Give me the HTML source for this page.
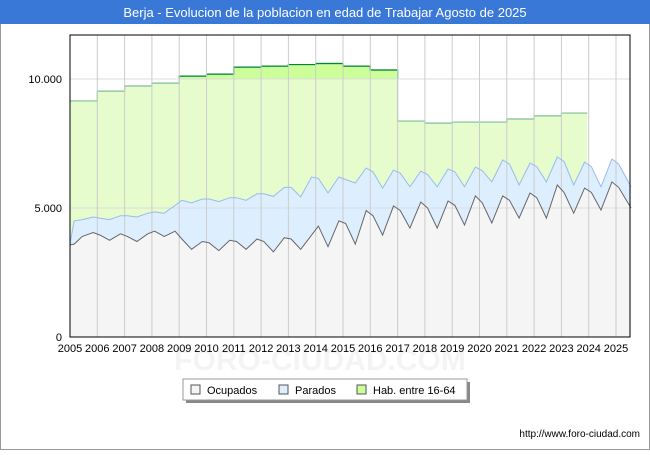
<!DOCTYPE html>
<html><head><meta charset="utf-8"><style>
body{margin:0;background:#fff;font-family:"Liberation Sans",sans-serif}
#wrap{position:relative;width:650px;height:450px}
</style></head><body>
<div id="wrap">
<svg id="svg" width="650" height="450" xmlns="http://www.w3.org/2000/svg">
<rect x="0.5" y="0.5" width="649" height="449" fill="#fff" stroke="#999"/>
<rect x="0" y="0" width="650" height="24" fill="#3a78d8"/>
<text x="325" y="17" text-anchor="middle" fill="#fff" font-size="13">Berja - Evolucion de la poblacion en edad de Trabajar Agosto de 2025</text>
<text x="320" y="370" text-anchor="middle" fill="#f4f4f4" font-size="30" font-weight="bold">FORO-CIUDAD.COM</text>
<g id="plot"></g>
<g>
<rect x="186" y="382" width="284" height="21" fill="#888"/>
<rect x="183" y="379" width="284" height="21" fill="#fff" stroke="#999"/>
<rect x="191" y="385" width="9" height="9" fill="#f5f5f5" stroke="#555"/>
<text x="207" y="394" font-size="11">Ocupados</text>
<rect x="279" y="385" width="9" height="9" fill="#ddeeff" stroke="#555"/>
<text x="295" y="394" font-size="11">Parados</text>
<rect x="357" y="385" width="9" height="9" fill="#ccff99" stroke="#555"/>
<text x="373" y="394" font-size="11">Hab. entre 16-64</text>
</g>
<text x="640" y="437" text-anchor="end" font-size="10">http://www.foro-ciudad.com</text>
</svg>
</div>
<script>
const habYears=[2005,2006,2007,2008,2009,2010,2011,2012,2013,2014,2015,2016,2017,2018,2019,2020,2021,2022,2023];
const habValues=[9150,9530,9730,9840,10110,10190,10460,10500,10560,10600,10500,10350,8370,8290,8330,8330,8450,8570,8680];
const fechas=[2005.0,2005.15,2005.45,2005.85,
2006.1,2006.45,2006.85,2007.1,2007.45,2007.85,2008.1,2008.45,2008.85,2009.1,2009.45,2009.85,
2010.1,2010.45,2010.85,2011.1,2011.45,2011.85,2012.1,2012.45,2012.85,2013.1,2013.45,2013.85,
2014.1,2014.45,2014.85,2015.1,2015.45,2015.85,2016.1,2016.45,2016.85,2017.1,2017.45,2017.85,
2018.1,2018.45,2018.85,2019.1,2019.45,2019.85,2020.1,2020.45,2020.85,2021.1,2021.45,2021.85,
2022.1,2022.45,2022.85,2023.1,2023.45,2023.85,2024.1,2024.45,2024.85,2025.1,2025.55];
const ocupados=[3570,3600,3900,4050,
3950,3750,4000,3900,3700,4000,4100,3900,4100,3800,3400,3700,
3650,3350,3750,3700,3400,3800,3700,3300,3850,3800,3400,3950,
4300,3500,4500,4400,3600,4900,4700,3950,5080,4900,4220,5230,
5000,4220,5270,5100,4340,5470,5200,4420,5470,5300,4610,5580,
5400,4610,5890,5600,4800,5770,5600,4920,6010,5800,5000];
const ocupadosMasParados=[3600,4500,4550,4650,
4600,4550,4700,4700,4650,4800,4850,4800,5100,5300,5200,5350,
5350,5250,5400,5400,5300,5550,5550,5450,5800,5800,5430,6200,
6150,5580,6200,6100,5970,6550,6400,5770,6470,6350,5820,6430,
6300,5820,6510,6400,5820,6590,6450,6010,6860,6700,5890,6740,
6600,6010,6980,6800,5890,6780,6600,5820,6900,6700,5820];
const yTicks=[0,5000,10000];
const yTickLabels=["0","5.000","10.000"];
const xYears=[2005,2006,2007,2008,2009,2010,2011,2012,2013,2014,2015,2016,2017,2018,2019,2020,2021,2022,2023,2024,2025];

const L=70,R=630,T=35,B=337;
const xs=v=>L+(v-2005)*27.3;
const ys=v=>B-v*0.0258;
const NS='http://www.w3.org/2000/svg';
const plot=document.getElementById('plot');
function mk(tag,attrs,parent){const e=document.createElementNS(NS,tag);for(const k in attrs)e.setAttribute(k,attrs[k]);(parent||plot).appendChild(e);return e;}
mk('rect',{x:L,y:T,width:R-L,height:B-T,fill:'#fff'});
// clip for dark region above 10000
const defs=mk('defs',{});
const cp=mk('clipPath',{id:'above'},defs);
mk('rect',{x:L,y:0,width:R-L,height:ys(10000)},cp);
// hab area
let hp='';
habYears.forEach((y,i)=>{const x0=xs(y),x1=xs(y+(i==habYears.length-1?0.95:1));hp+=(i?'L':'M')+x0+','+ys(habValues[i])+'L'+x1+','+ys(habValues[i]);});
const habEnd=xs(2023.95);
const habArea=hp+'L'+habEnd+','+B+'L'+xs(2005)+','+B+'Z';
const a1=mk('path',{d:habArea,fill:'#e6fccc'});

mk('path',{d:habArea,fill:'#ccff99','clip-path':'url(#above)'});
const l1=mk('path',{d:hp,fill:'none',stroke:'#7fbf99','stroke-width':1.2});

mk('path',{d:hp,fill:'none',stroke:'#008833','stroke-width':1.2,'clip-path':'url(#above)'});
// stacked areas
function linePath(arr){return arr.map((v,i)=>(i?'L':'M')+xs(fechas[i]).toFixed(1)+','+ys(v).toFixed(1)).join('');}
const endX=xs(fechas[fechas.length-1]);
const pp=linePath(ocupadosMasParados);
const a2=mk('path',{d:pp+'L'+endX+','+B+'L'+L+','+B+'Z',fill:'#ddeeff'});

const op=linePath(ocupados);
const a3=mk('path',{d:op+'L'+endX+','+B+'L'+L+','+B+'Z',fill:'#f5f5f5'});

// grid
yTicks.forEach((t,i)=>{
 if(t>0){const g=mk('line',{x1:L,x2:R,y1:ys(t),y2:ys(t),stroke:'#ddd'});}
 const tx=mk('text',{x:L-8,y:ys(t)+4,'text-anchor':'end','font-size':11});tx.textContent=yTickLabels[i];
 
});
xYears.forEach(y=>{
 if(y>2005){const g=mk('line',{x1:xs(y),x2:xs(y),y1:T,y2:B,stroke:'#ccc'});}
 const tx=mk('text',{x:xs(y),y:B+15,'text-anchor':'middle','font-size':11});tx.textContent=y;
 
});
const l2=mk('path',{d:pp,fill:'none',stroke:'#99bbee','stroke-width':1});

const l3=mk('path',{d:op,fill:'none',stroke:'#666','stroke-width':1});

const fr=mk('rect',{x:L,y:T,width:R-L,height:B-T,fill:'none',stroke:'#000','stroke-width':1});

</script>
</body></html>
